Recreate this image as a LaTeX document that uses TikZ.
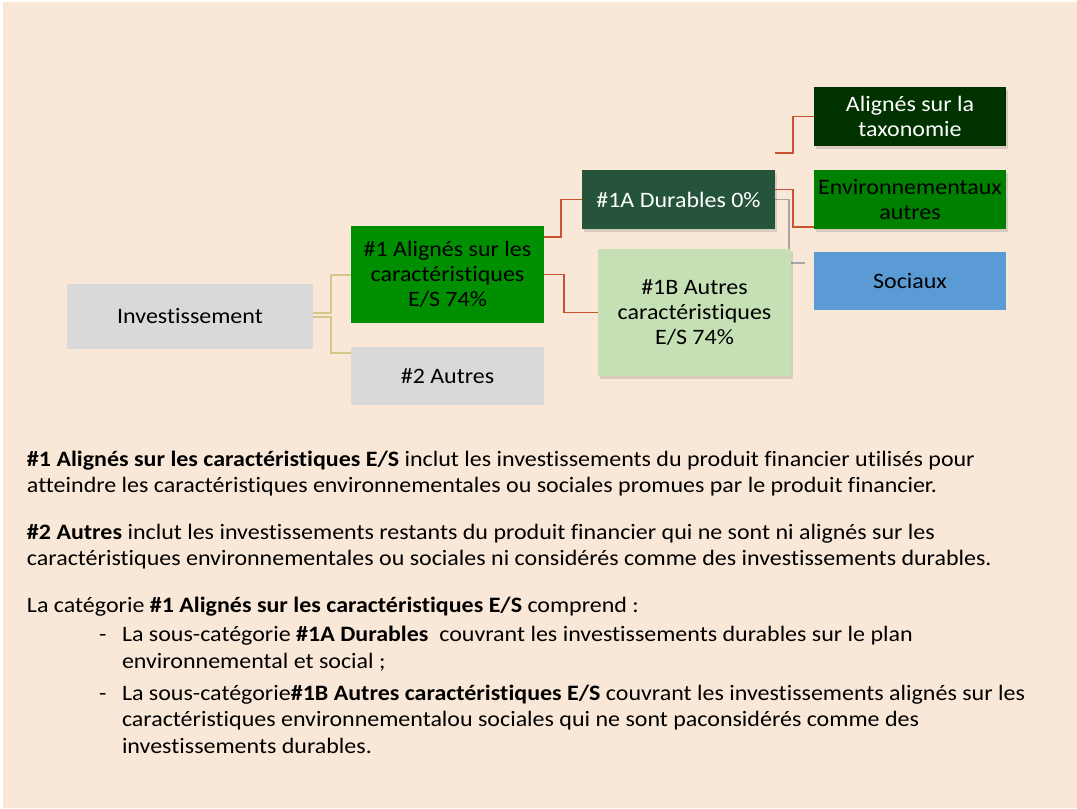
\documentclass[tikz,border=0pt]{standalone}
\usepackage{fontspec}
\setmainfont{Carlito}[FakeStretch=1.09, Ligatures=NoCommon]
\usetikzlibrary{positioning,shadows}

\definecolor{paper}{HTML}{F9E8D8}
\definecolor{greyfill}{HTML}{D9D9D9}
\definecolor{alignedgreen}{HTML}{008F00}
\definecolor{otherenv}{HTML}{008000}
\definecolor{durgreen}{HTML}{26543B}
\definecolor{taxgreen}{HTML}{003300}
\definecolor{palegreen}{HTML}{C5E0B4}
\definecolor{socblue}{HTML}{5B9BD5}
\definecolor{khaki}{HTML}{D5C78A}
\definecolor{rust}{HTML}{C9522F}
\definecolor{linkgrey}{HTML}{A6A6A6}

\pgfdeclarelayer{paperlayer}
\pgfdeclarelayer{linklayer}
\pgfsetlayers{paperlayer,linklayer,main}

\tikzset{
  catbox/.style={rectangle, inner sep=0pt, outer sep=0pt, align=center, font=\fontsize{22}{25}\selectfont},
  raised/.style={drop shadow={shadow xshift=2pt, shadow yshift=-3pt, opacity=.22, fill=black!60}},
  stem/.style={draw=khaki, line width=2pt},
  branch/.style={draw=rust, line width=1.8pt},
  twig/.style={draw=linkgrey, line width=1.5pt},
  para/.style={anchor=base west, inner sep=0pt, outer sep=0pt, align=left, font=\fontsize{22}{26.8}\selectfont}
}

\begin{document}
\begin{tikzpicture}[x=1pt,y=-1pt]
    \useasboundingbox (0,0) rectangle (1077,809);
    \begin{pgfonlayer}{paperlayer}
        \fill[paper] (3,2) rectangle (1077,808);
    \end{pgfonlayer}
    % boxes of the tree
    \node[catbox, fill=greyfill, minimum width=246pt, minimum height=65pt] (inv) at (190,316.5) {Investissement};
    \node[catbox, fill=alignedgreen, minimum width=193pt, minimum height=97pt] (al1) at (447.5,274.5) {\#1 Alignés sur les\\caractéristiques\\E/S 74\%};
    \node[catbox, fill=greyfill, minimum width=193pt, minimum height=58pt, below=24pt of al1] (aut2) {\#2 Autres};
    \node[catbox, raised, fill=durgreen, text=white, minimum width=193pt, minimum height=59pt] (dur1A) at (678.5,199.5) {\#1A Durables 0\%};
    \node[catbox, raised, fill=palegreen, minimum width=193pt, minimum height=127pt] (aut1B) at (694.5,312.5) {\#1B Autres\\caractéristiques\\E/S 74\%};
    \node[catbox, raised, fill=taxgreen, text=white, minimum width=192pt, minimum height=59pt] (tax) at (910,116.5) {Alignés sur la\\taxonomie};
    \node[catbox, raised, fill=otherenv, minimum width=192pt, minimum height=59pt, below=24pt of tax] (env) {Environnementaux\\autres};
    \node[catbox, fill=socblue, minimum width=192pt, minimum height=58pt, below=23pt of env] (soc) {Sociaux};
    % elbow connectors, kept under the boxes
    \begin{pgfonlayer}{linklayer}
        \draw[stem] ([yshift=4pt]inv.east) -- ++(17.5,0) |- (al1.west);
        \draw[stem] (inv.east) -- ++(17.5,0) |- ([yshift=-6pt]aut2.north west);
        \draw[branch] ([yshift=-11pt]al1.north east) -- ++(17,0) |- (dur1A.west);
        \draw[branch] (al1.east) -- ++(20,0) |- (aut1B.west);
        \coordinate (taxfoot) at ([yshift=17pt]dur1A.north east);
        \draw[branch] (taxfoot) -- ++(18,0) |- (tax.west);
        \draw[branch] ([yshift=10pt]dur1A.east) -- ++(18,0) |- ([yshift=2pt]env.south west);
        \coordinate (socfoot) at ([xshift=-9pt,yshift=-11pt]soc.north west);
        \draw[twig] (dur1A.east) -- ++(14,0) |- (socfoot);
    \end{pgfonlayer}
    % notes under the tree (anchored on their last line)
    \node[para] (noteA) at (27,492.8) {\textbf{\#1 Alignés sur les caractéristiques E/S} inclut les investissements du produit financier utilisés pour\\atteindre les caractéristiques environnementales ou sociales promues par le produit financier.};
    \node[para] (noteB) at (27,565.8) {\textbf{\#2 Autres} inclut les investissements restants du produit financier qui ne sont ni alignés sur les\\caractéristiques environnementales ou sociales ni considérés comme des investissements durables.};
    \node[para] (noteC) at (27,612.5) {La catégorie \textbf{\#1 Alignés sur les caractéristiques E/S} comprend :};
    \node[para] (dashA) at (99,641.5) {-};
    \node[para] (itemA) at (122,668.3) {La sous-catégorie \textbf{\#1A Durables}\ \ couvrant les investissements durables sur le plan\\environnemental et social ;};
    \node[para] (dashB) at (99,700) {-};
    \node[para] (itemB) at (122,753.6) {La sous-catégorie\textbf{\#1B Autres caractéristiques E/S} couvrant les investissements alignés sur les\\caractéristiques environnementalou sociales qui ne sont paconsidérés comme des\\investissements durables.};
\end{tikzpicture}
\end{document}
